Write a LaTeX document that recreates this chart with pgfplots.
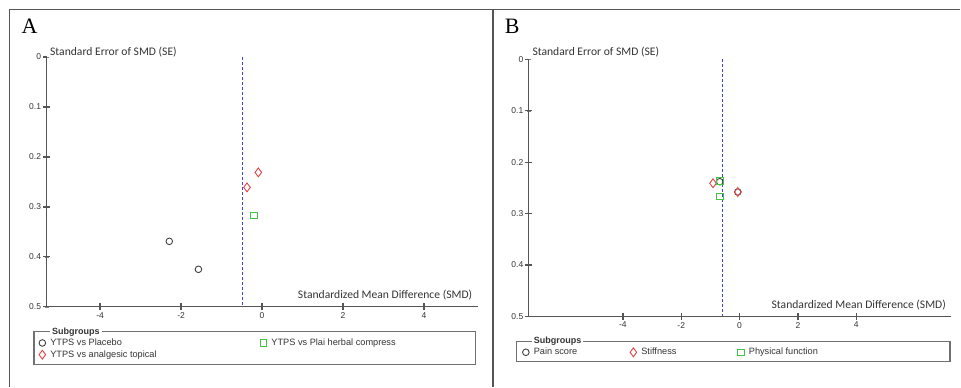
\documentclass[border=0pt]{standalone}
\usepackage{pgfplots}
\pgfplotsset{compat=1.18}
\usepackage{fontspec}
\setmainfont{Liberation Sans}
\newfontfamily\calfont{Carlito}
\newfontfamily\serfont{Liberation Serif}
\definecolor{axgray}{HTML}{555555}
\definecolor{tickgray}{HTML}{333333}
\definecolor{cgray}{HTML}{404040}
\definecolor{cred}{HTML}{DD4444}
\definecolor{cgreen}{HTML}{44C444}
\definecolor{cblue}{HTML}{4040E8}
\definecolor{boxgray}{HTML}{707070}
\tikzset{tk/.style={draw=axgray, line width=1.3pt}}
\pgfplotsset{fp/.style={
  scale only axis, axis x line=bottom, axis y line=left,
  axis line style={-, draw=axgray, line width=1.1pt},
  y dir=reverse, ymin=0, ymax=0.5, ytick={0,0.1,0.2,0.3,0.4,0.5},
  xtick={-4,-2,0,2,4},
  tick align=center,
  ticklabel style={font=\fontsize{8.5}{10}\selectfont, text=tickgray},
  /pgf/number format/assume math mode=true,
  clip=false,
  legend cell align=left,
  legend style={draw=none, fill=none, inner sep=0pt, row sep=0.7pt, column sep=0pt,
    nodes={inner sep=1pt, text height=7pt, text depth=2pt, font=\fontsize{9.2}{11}\selectfont, text=tickgray},
    anchor=north west},
},
limg/.style={legend image code/.code={\draw[mark repeat=2,mark phase=2,##1] plot coordinates {(0pt,0pt) (7pt,0pt) (14pt,0pt)}; \path[draw=none,fill=none] (0pt,-0.1pt) rectangle (14pt,0.1pt);}},
circ/.style={only marks, mark=o, mark size=3.3pt, draw=cgray, line width=0.9pt, limg},
diam/.style={only marks, mark=diamond, mark size=4.4pt, draw=cred, line width=0.9pt, limg},
sqr/.style={only marks, mark=square, mark size=3.3pt, draw=cgreen, line width=0.9pt, limg},
vline/.style={draw=cblue, line width=0.9pt, dash pattern=on 3pt off 2pt, forget plot, mark=none},
}
\begin{document}
\begin{tikzpicture}
\path (0pt,0pt) rectangle (961pt,387pt);
% frame
\draw[axgray, line width=1.3pt] (9.7pt,0pt) -- (9.7pt,377.3pt) -- (961pt,377.3pt);
\draw[axgray, line width=1.3pt] (493.3pt,0pt) -- (493.3pt,377.3pt);
\node[anchor=base west, inner sep=0, font=\serfont\fontsize{22}{24}\selectfont] at (21.5pt,353.5pt) {A};
\node[anchor=base west, inner sep=0, font=\serfont\fontsize{22}{24}\selectfont] at (505pt,353.5pt) {B};

% ---------- Panel A ----------
\begin{axis}[fp, at={(46.7pt,80pt)}, anchor=south west, width=431.3pt, height=250pt,
  xmin=-5.32, xmax=5.33, legend columns=2,
  legend style={at={(-0.0267,-0.122)}}]
\addplot[vline] coordinates {(-0.49,0) (-0.49,0.5)};
\addplot[circ] coordinates {(-2.29,0.369) (-1.57,0.425)};
\addlegendentry{\makebox[205.3pt][l]{YTPS vs Placebo}}
\addplot[sqr] coordinates {(-0.20,0.317)};
\addlegendentry{YTPS vs Plai herbal compress}
\addplot[diam] coordinates {(-0.09,0.231) (-0.37,0.261)};
\addlegendentry{YTPS vs analgesic topical}
\pgfplotsinvokeforeach{-4,-2,0,2,4}{\draw[tk] (axis cs:#1,0.5) ++(0pt,-3.5pt) -- ++(0pt,7pt);}
\pgfplotsinvokeforeach{0.1,0.2,0.3,0.4,0.5}{\draw[tk] (axis cs:-5.32,#1) ++(-3.5pt,0pt) -- ++(7pt,0pt);}
\draw[tk] (axis cs:-5.32,0) -- ++(-3.5pt,0pt);
\end{axis}
\node[anchor=west, inner sep=0, font=\calfont\fontsize{11.6}{13}\selectfont, text=tickgray] at (50pt,335pt) {Standard Error of SMD (SE)};
\node[anchor=east, inner sep=0, font=\calfont\fontsize{11.6}{13}\selectfont, text=tickgray] at (472.7pt,92pt) {Standardized Mean Difference (SMD)};
\draw[boxgray, line width=1.2pt] (34pt,55pt) rectangle (476pt,22.5pt);
\node[anchor=west, fill=white, inner xsep=2pt, inner ysep=0pt, font=\bfseries\fontsize{9}{10}\selectfont, text=tickgray] at (50pt,55pt) {Subgroups};

% ---------- Panel B ----------
\begin{axis}[fp, at={(529.3pt,70.3pt)}, anchor=south west, width=422.4pt, height=257.4pt,
  xmin=-7.22, xmax=7.25, legend columns=3,
  legend style={at={(-0.0244,-0.117)}}]
\addplot[vline] coordinates {(-0.59,0) (-0.59,0.5)};
\addplot[circ] coordinates {(-0.68,0.238) (-0.06,0.258)};
\addlegendentry{\makebox[91.6pt][l]{Pain score}}
\addplot[diam] coordinates {(-0.91,0.241) (-0.06,0.258)};
\addlegendentry{\makebox[91.6pt][l]{Stiffness}}
\addplot[sqr] coordinates {(-0.68,0.237) (-0.68,0.267)};
\addlegendentry{Physical function}
\pgfplotsinvokeforeach{-4,-2,0,2,4}{\draw[tk] (axis cs:#1,0.5) ++(0pt,-3.5pt) -- ++(0pt,7pt);}
\pgfplotsinvokeforeach{0.1,0.2,0.3,0.4,0.5}{\draw[tk] (axis cs:-7.22,#1) ++(-3.5pt,0pt) -- ++(7pt,0pt);}
\draw[tk] (axis cs:-7.22,0) -- ++(-3.5pt,0pt);
\end{axis}
\node[anchor=west, inner sep=0, font=\calfont\fontsize{11.6}{13}\selectfont, text=tickgray] at (532.7pt,335.3pt) {Standard Error of SMD (SE)};
\node[anchor=east, inner sep=0, font=\calfont\fontsize{11.6}{13}\selectfont, text=tickgray] at (946.7pt,82pt) {Standardized Mean Difference (SMD)};
\draw[boxgray, line width=1.2pt] (516.7pt,45.3pt) rectangle (950.7pt,25.3pt);
\node[anchor=west, fill=white, inner xsep=2pt, inner ysep=0pt, font=\bfseries\fontsize{9}{10}\selectfont, text=tickgray] at (532pt,45.3pt) {Subgroups};
\end{tikzpicture}
\end{document}
